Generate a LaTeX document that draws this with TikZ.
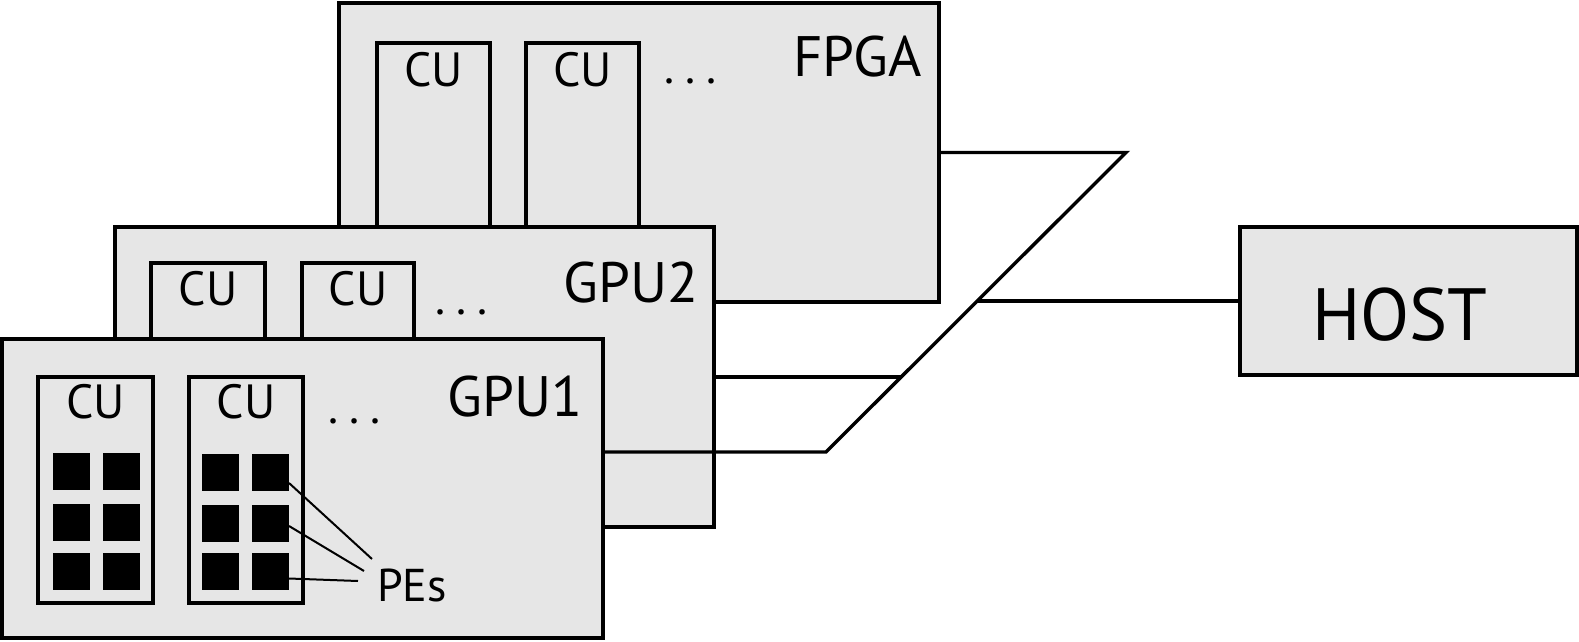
\documentclass[tikz,border=0pt]{standalone}
\usepackage{fontspec}
\setmainfont{PT Sans}
\definecolor{boardgray}{RGB}{230,230,230}
\newcommand{\mydots}{.\hspace{11pt}.\hspace{11pt}.}
\begin{document}
\begin{tikzpicture}[x=1pt,y=-1pt,
  board/.style={draw, line width=4pt, fill=boardgray, inner sep=0pt, outer sep=0pt, anchor=north west},
  cubox/.style={draw, line width=3.6pt, fill=boardgray, inner sep=0pt, outer sep=0pt, anchor=north west},
  pe/.style={fill=black, inner sep=0pt, outer sep=0pt, minimum size=37pt},
  culbl/.style={anchor=base, inner sep=0pt, font=\fontsize{48}{48}\selectfont},
  dotslbl/.style={anchor=base west, inner sep=0pt, font=\fontsize{47}{47}\selectfont},
  devlbl/.style={anchor=base east, inner sep=0pt, font=\fontsize{57}{57}\selectfont},
  wire/.style={line width=3.4pt},
  peline/.style={line width=2pt}]
\useasboundingbox (0,0) rectangle (1579,642);

% FPGA
\node[board, minimum width=600pt, minimum height=299pt] (fpga) at (339,3) {};
\node[cubox, minimum width=113pt, minimum height=184pt] (fcu1) at (377,43) {};
\node[cubox, minimum width=113pt, minimum height=184pt] (fcu2) at (526,43) {};
\node[culbl] (fcu1t) at (433.5,86) {CU};
\node[culbl] (fcu2t) at (582.5,86) {CU};
\node[dotslbl] (fdots) at (664,84) {\mydots};
\node[devlbl] (fpgat) at (922,77) {FPGA};

% GPU2
\node[board, minimum width=599pt, minimum height=300pt] (gpu2) at (115,227) {};
\node[cubox, minimum width=114pt, minimum height=76pt] (gcu1) at (151,263) {};
\node[cubox, minimum width=112pt, minimum height=76pt] (gcu2) at (302,263) {};
\node[culbl] (gcu1t) at (208,305) {CU};
\node[culbl] (gcu2t) at (358,305) {CU};
\node[dotslbl] (gdots) at (435,314) {\mydots};
\node[devlbl] (gpu2t) at (699,302) {GPU2};

% GPU1
\node[board, minimum width=601pt, minimum height=299pt] (gpu1) at (2,339) {};
\node[cubox, minimum width=115pt, minimum height=226pt] (hcu1) at (38,377) {};
\node[cubox, minimum width=114pt, minimum height=226pt] (hcu2) at (189,377) {};
\node[culbl] (hcu1t) at (95.5,418) {CU};
\node[culbl] (hcu2t) at (246,418) {CU};
\node[dotslbl] (hdots) at (328,423) {\mydots};
\node[devlbl] (gpu1t) at (583,416) {GPU1};

% PEs
\node[pe] (pa11) at (71,471) {};
\node[pe] (pa12) at (121,471) {};
\node[pe] (pa21) at (71,522) {};
\node[pe] (pa22) at (121,522) {};
\node[pe] (pa31) at (71,571) {};
\node[pe] (pa32) at (121,571) {};
\node[pe] (pb11) at (220.5,472) {};
\node[pe] (pb12) at (270.5,472) {};
\node[pe] (pb21) at (220.5,523) {};
\node[pe] (pb22) at (270.5,523) {};
\node[pe] (pb31) at (220.5,571.5) {};
\node[pe] (pb32) at (270.5,571.5) {};
\node[anchor=base west, inner sep=0pt, font=\fontsize{46}{46}\selectfont] (pes) at (377,601) {PEs};
\coordinate (pq1) at (372,559);
\coordinate (pq2) at (364,571);
\coordinate (pq3) at (358,581);
\draw[peline] ([yshift=-11pt]pb12.east) -- (pq1);
\draw[peline] ([yshift=-3pt]pb22.east) -- (pq2);
\draw[peline] ([yshift=-7pt]pb32.east) -- (pq3);

% HOST
\node[board, minimum width=337pt, minimum height=148pt] (host) at (1240,227) {};
\node[anchor=base, inner sep=0pt, font=\fontsize{74}{74}\selectfont, xscale=0.97] (hostt) at (1400,340) {HOST};

% wires
\coordinate (k1) at (1126,152.5);
\coordinate (k2) at (826,452);
\coordinate (k3) at (901,377);
\coordinate (k4) at (977,301);
\draw[wire] (fpga.east) -- (k1) -- (k2) -- (k2 -| gpu1.east);
\draw[wire] (gpu2.east) -- (k3);
\draw[wire] (host.west) -- (k4);
\end{tikzpicture}
\end{document}
